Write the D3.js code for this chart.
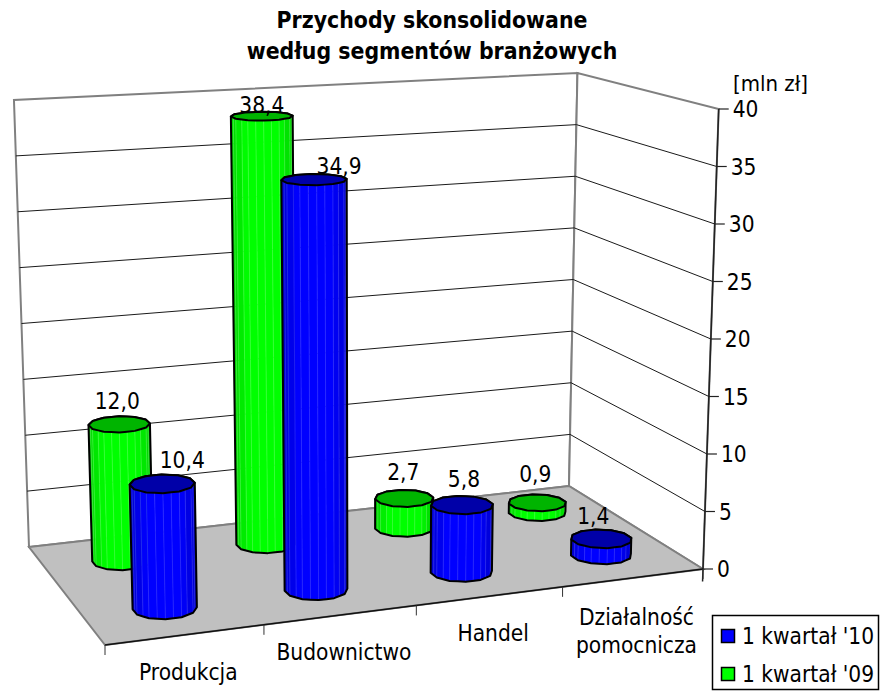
<!DOCTYPE html>
<html>
<head>
<meta charset="utf-8">
<script src="https://cdn.jsdelivr.net/npm/d3@7"></script>
<style>
body { margin: 0; background: #fff; }
text { font-family: "DejaVu Sans Condensed", "DejaVu Sans", sans-serif; fill: #000; }
</style>
</head>
<body>
<div id="plot"></div>
<script>
var width = 882;
var height = 691;

var categories = ['Produkcja', 'Budownictwo', 'Handel', 'Działalność|pomocnicza'];
var series = ["1 kwartał '10", "1 kwartał '09"];
var values_10 = [10.4, 34.9, 5.8, 1.4];
var values_09 = [12.0, 38.4, 2.7, 0.9];
var labels_10 = ['10,4', '34,9', '5,8', '1,4'];
var labels_09 = ['12,0', '38,4', '2,7', '0,9'];
var y_ticks = [0, 5, 10, 15, 20, 25, 30, 35, 40];

// hand placed data label offsets, the original chart has them moved around
var label_shift_10 = [[20, -24], [25, -14], [2, -26], [-8, -23]];
var label_shift_09 = [[-2, -23], [0, -11], [-1, -26], [-2, -29]];

var colors = {
    blue: { side: '#0000ff', dark: '#0000b8', top: '#0000a8', line: '#5a5aff' },
    green: { side: '#00ff00', dark: '#00bc00', top: '#00b400', line: '#7dff7d' }
};

var font_size = 22.5;

var canvas = d3.select('#plot')
    .append('svg')
    .attr('width', width)
    .attr('height', height);

// corners of the 3d box: front-left, front-right, back-right, back-left
var floor_quad = [[105, 645], [703, 569], [569, 486], [29, 547]];
var top_quad = [[91, 148], [717, 109], [577, 73], [13, 100]];
// verticals of the box meet far below the picture
var vanish = [364, 10500];

function quadMap(p) {
    var dx1 = p[1][0] - p[2][0], dx2 = p[3][0] - p[2][0], sx = p[0][0] - p[1][0] + p[2][0] - p[3][0];
    var dy1 = p[1][1] - p[2][1], dy2 = p[3][1] - p[2][1], sy = p[0][1] - p[1][1] + p[2][1] - p[3][1];
    var det = dx1 * dy2 - dx2 * dy1;
    var g = (sx * dy2 - dx2 * sy) / det;
    var h = (dx1 * sy - sx * dy1) / det;
    var a = p[1][0] - p[0][0] + g * p[1][0];
    var b = p[3][0] - p[0][0] + h * p[3][0];
    var d = p[1][1] - p[0][1] + g * p[1][1];
    var e = p[3][1] - p[0][1] + h * p[3][1];
    return function(u, v) {
        var q = g * u + h * v + 1;
        return [(a * u + b * v + p[0][0]) / q, (d * u + e * v + p[0][1]) / q];
    };
}

var floor_map = quadMap(floor_quad);
var top_map = quadMap(top_quad);

function project(u, v, w) {
    var f = floor_map(u, v);
    var t = top_map(u, v);
    var y = f[1] + (t[1] - f[1]) * w;
    var x = f[0] + (f[0] - vanish[0]) / (vanish[1] - f[1]) * (f[1] - y);
    return [x, y];
}

var x_scale = d3.scaleBand().domain(d3.range(categories.length)).range([0, 1]);
// front row first, depth 0 is the front edge of the floor
var z_scale = d3.scaleBand().domain(d3.range(series.length)).range([0, 1]);
var y_scale = d3.scaleLinear().domain([0, 40]).range([0, 1]);

function poly(points) {
    return d3.line()(points) + 'Z';
}

// walls and floor
var back_wall = [project(0, 1, 0), project(1, 1, 0), project(1, 1, 1), project(0, 1, 1)];
var side_wall = [project(1, 1, 0), project(1, 0, 0), project(1, 0, 1), project(1, 1, 1)];
var floor_pts = [project(0, 0, 0), project(1, 0, 0), project(1, 1, 0), project(0, 1, 0)];

canvas.append('path').attr('d', poly(back_wall)).attr('fill', '#fff').attr('stroke', '#808080').attr('stroke-width', 2);
canvas.append('path').attr('d', poly(side_wall)).attr('fill', '#fff').attr('stroke', '#808080').attr('stroke-width', 2);
canvas.append('path').attr('d', poly(floor_pts)).attr('fill', '#c0c0c0').attr('stroke', '#808080').attr('stroke-width', 2);

// gridlines
y_ticks.filter(function(t) { return t > 0 && t < 40; }).forEach(function(t) {
    var w = y_scale(t);
    canvas.append('path')
        .attr('d', d3.line()([project(0, 1, w), project(1, 1, w), project(1, 0, w)]))
        .attr('fill', 'none')
        .attr('stroke', '#1a1a1a')
        .attr('stroke-width', 1);
});

// y axis on the front right edge
canvas.append('path')
    .attr('d', d3.line()([project(1, 0, -0.027), project(1, 0, 1)]))
    .attr('stroke', '#222')
    .attr('stroke-width', 1.5)
    .attr('fill', 'none');

y_ticks.forEach(function(t) {
    var p = project(1, 0, y_scale(t));
    canvas.append('line')
        .attr('x1', p[0]).attr('x2', p[0] + 10)
        .attr('y1', p[1]).attr('y2', p[1])
        .attr('stroke', '#222').attr('stroke-width', 1.2);
    canvas.append('text')
        .attr('x', p[0] + 14)
        .attr('y', p[1] + 8)
        .attr('font-size', font_size)
        .text(t);
});

// x axis front edge
canvas.append('path')
    .attr('d', d3.line()([project(0, 0, 0), project(1, 0, 0)]))
    .attr('stroke', '#111')
    .attr('stroke-width', 1.5);

d3.range(categories.length + 1).forEach(function(i) {
    var p = project(i / categories.length, 0, 0);
    canvas.append('line')
        .attr('x1', p[0]).attr('x2', p[0])
        .attr('y1', p[1]).attr('y2', p[1] + 10)
        .attr('stroke', '#333').attr('stroke-width', 1);
});

categories.forEach(function(c, i) {
    var p = project(x_scale(i) + x_scale.bandwidth() / 2, 0, 0);
    var lines = c.split('|');
    var text = canvas.append('text')
        .attr('text-anchor', 'middle')
        .attr('font-size', font_size);
    lines.forEach(function(l, j) {
        text.append('tspan')
            .attr('x', p[0] + 3)
            .attr('y', p[1] + (lines.length > 1 ? 47 : 45) + j * 28)
            .text(l);
    });
});

// the "cylinders" are 12 sided, each side split in two stripes
var ru = 0.05, rv = 0.1, sides = 24;

function drawBar(i, s, value, col) {
    var cu = x_scale(i) + x_scale.bandwidth() / 2 + 0.004;
    var cv = z_scale(s) + z_scale.bandwidth() / 2;
    var w = y_scale(value);
    var g = canvas.append('g');

    var ring = d3.range(sides).map(function(k) {
        var a0 = Math.floor(k / 2) * 2, f = (k - a0) / 2;
        var a1 = (a0 + 1) / sides * 2 * Math.PI, a2 = (a0 + 3) / sides * 2 * Math.PI;
        return [
            (1 - f) * Math.cos(a1) + f * Math.cos(a2),
            (1 - f) * Math.sin(a1) + f * Math.sin(a2)
        ];
    });
    var low = ring.map(function(r) { return project(cu + ru * r[0], cv + rv * r[1], 0); });
    var high = ring.map(function(r) { return project(cu + ru * r[0], cv + rv * r[1], w); });
    var mid_x = d3.mean(low, function(p) { return p[0]; });

    var half = (d3.max(low, function(p) { return p[0]; }) - d3.min(low, function(p) { return p[0]; })) / 2;
    var shade = d3.interpolateRgb(col.dark, col.side);

    d3.range(sides).forEach(function(k) {
        var n = (k + 1) % sides;
        var quad = [low[k], low[n], high[n], high[k]];
        // only the ones facing us
        if (d3.polygonArea(quad) <= 0) return;
        var d = Math.abs((low[k][0] + low[n][0]) / 2 - mid_x) / half;
        g.append('path')
            .attr('d', poly(quad))
            .attr('fill', shade(Math.min(1, 1.25 - d * d)))
            .attr('stroke', shade(Math.min(1, 1.25 - d * d)))
            .attr('stroke-width', 0.5);
        g.append('path')
            .attr('d', d3.line()([low[k], high[k]]))
            .attr('stroke', col.line)
            .attr('stroke-opacity', 0.45)
            .attr('stroke-width', 0.8);
    });

    g.append('path')
        .attr('d', poly(d3.polygonHull(low.concat(high))))
        .attr('fill', 'none')
        .attr('stroke', '#000')
        .attr('stroke-width', 2)
        .attr('stroke-linejoin', 'round');
    g.append('path')
        .attr('d', poly(high))
        .attr('fill', col.top)
        .attr('stroke', '#000')
        .attr('stroke-width', 2)
        .attr('stroke-linejoin', 'round');

    return project(cu, cv, w);
}

// back row first
var tops_09 = values_09.map(function(v, i) { return drawBar(i, 1, v, colors.green); });
var tops_10 = values_10.map(function(v, i) { return drawBar(i, 0, v, colors.blue); });

function drawLabels(tops, labels, shift) {
    canvas.append('g').selectAll('text')
        .data(labels)
        .enter()
        .append('text')
        .attr('text-anchor', 'middle')
        .attr('font-size', font_size)
        .attr('x', function(d, i) { return tops[i][0] + shift[i][0]; })
        .attr('y', function(d, i) { return tops[i][1] + shift[i][1] + 8; })
        .text(function(d) { return d; });
}
drawLabels(tops_09, labels_09, label_shift_09);
drawLabels(tops_10, labels_10, label_shift_10);

// title
canvas.append('text').attr('x', 432).attr('y', 28).attr('text-anchor', 'middle')
    .attr('font-size', 22.8).attr('font-weight', 'bold').text('Przychody skonsolidowane');
canvas.append('text').attr('x', 432).attr('y', 59).attr('text-anchor', 'middle')
    .attr('font-size', 22.8).attr('font-weight', 'bold').text('według segmentów branżowych');
canvas.append('text').attr('x', 733).attr('y', 91).attr('font-size', 22).text('[mln zł]');

// legend
var legend = canvas.append('g');
legend.append('rect').attr('x', 712.5).attr('y', 615.5).attr('width', 166).attr('height', 74)
    .attr('fill', '#fff').attr('stroke', '#000').attr('stroke-width', 1.5);
[colors.blue.side, colors.green.side].forEach(function(c, i) {
    legend.append('rect').attr('x', 721.5).attr('y', 629.5 + i * 38).attr('width', 13).attr('height', 13)
        .attr('fill', c).attr('stroke', '#000').attr('stroke-width', 1.5);
    legend.append('text').attr('x', 742).attr('y', 644 + i * 38).attr('font-size', font_size).text(series[i]);
});
</script>
</body>
</html>
